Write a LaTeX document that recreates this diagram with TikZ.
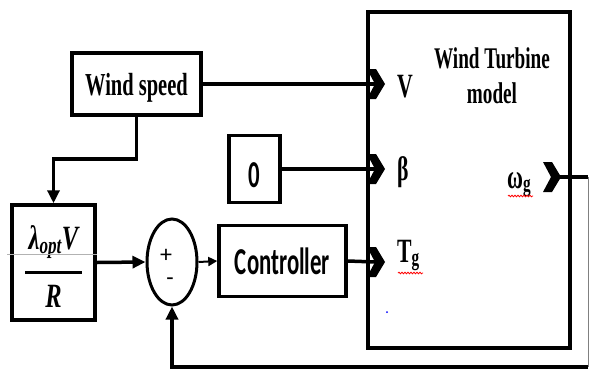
\documentclass[tikz,border=0pt]{standalone}
\usepackage{fontspec}
\usepackage{tikz}
\usetikzlibrary{shapes.geometric,arrows.meta,positioning,decorations.pathmorphing}
\newfontfamily\labfont[FakeStretch=0.64]{Liberation Serif}
\newfontfamily\calfont[FakeStretch=0.6]{Carlito}
\newfontfamily\calplain{Carlito}
\newfontfamily\fracfont[FakeStretch=0.72]{Liberation Serif}

\begin{document}
\begin{tikzpicture}[x=1pt, y=-1pt,
    blk/.style={draw, line width=3.5pt, inner sep=0pt},
    wire/.style={line width=3.5pt},
    tip/.style={-{Triangle[length=13pt, width=12pt]}},
    serifbig/.style={font={\labfont\bfseries\fontsize{32}{35}\selectfont}},
    calbig/.style={font={\calfont\bfseries\fontsize{38}{40}\selectfont}},
    signs/.style={font={\calplain\fontsize{24}{24}\selectfont}, inner sep=0pt},
    port/.style={font={\labfont\bfseries\fontsize{34}{38}\selectfont}, inner sep=0pt, anchor=base west},
    fracpart/.style={font={\fracfont\bfseries\itshape\fontsize{34}{38}\selectfont}, inner sep=0pt, anchor=base},
    squig/.style={red, line width=0.8pt, decorate, decoration={snake, amplitude=0.8pt, segment length=3pt}},
    chev/.pic={\fill (-9,-15) -- (0,-15) -- (9,0) -- (0,15) -- (-9,15) -- (-1,0) -- cycle;}]

    \useasboundingbox (0,0) rectangle (589,381);

    % blocks
    \node[blk, serifbig, minimum width=129pt, minimum height=62pt, text height=29pt, text depth=7pt] (ws) at (136.5,84) {Wind speed};
    \node[blk, minimum width=83pt, minimum height=115pt] (lam) at (53.5,262.5) {};
    \node[blk, calbig, minimum width=51pt, minimum height=67pt, text height=36pt, text depth=0pt] (zero) at (254.5,169) {0};
    \node[blk, ellipse, line width=3pt, minimum width=50pt, minimum height=86pt] (sum) at (172,262) {};
    \node[blk, calbig, minimum width=127pt, minimum height=71pt] (ctl) at (282.5,261) {Controller};
    \node[blk, minimum width=202pt, minimum height=336pt] (wt) at (469,180) {};

    % texts
    \node[font={\labfont\bfseries\fontsize{30}{35}\selectfont}, align=center, inner sep=0pt] (title) at (492,76) {Wind Turbine\\model};
    \node[fracpart] (num) at (53.5,249) {λ\textsubscript{opt}V};
    \node[fracpart] (den) at (53.5,307) {R};
    \draw[line width=3pt] (25,272) -- (82,272);
    \node[signs] (plus) at (166,256) {+};
    \node[signs] (minus) at (170,282) {-};

    % ports
    \coordinate (pV) at (376,84);
    \coordinate (pB) at (376,169);
    \coordinate (pT) at (376,262);
    \coordinate (pW) at (552,177);
    \coordinate (fbR) at (588,177);
    \coordinate (fbB) at (588,367);
    \node[port] (lV) at (397,97) {V};
    \node[port] (lB) at (397,180) {β};
    \node[port] (lT) at (397,262) {T\textsubscript{g}};
    \node[port] (lW) at (507,188) {ω\textsubscript{g}};

    % connectors
    \draw[wire] (ws.east) -- (pV);
    \draw[wire, tip] (ws.south) -- ++(0,42) -| (lam.north);
    \draw[wire] (zero.east) -- (pB);
    \draw[wire, tip] (lam.east) -- (sum.west);
    \draw[line width=2pt, -{Triangle[length=9pt, width=9pt]}] (sum.east) -- (ctl.west);
    \draw[wire] (ctl.east) -- (pT);
    \draw[wire] (pW) -- (fbR);
    \draw[gray, line width=1pt] (fbR) -- (fbB);
    \draw[wire, tip] (fbB) -| (sum.south);

    \pic at (pV) {chev};
    \pic at (pB) {chev};
    \pic at (pT) {chev};
    \pic at (pW) {chev};

    % marks
    \draw[gray!60, line width=0.6pt] (7,254) -- (97,254);
    \draw[squig] (398,273) -- (423,273);
    \draw[squig] (508,196) -- (533,196);
    \fill[blue] (387,312) circle (1pt);
\end{tikzpicture}
\end{document}
